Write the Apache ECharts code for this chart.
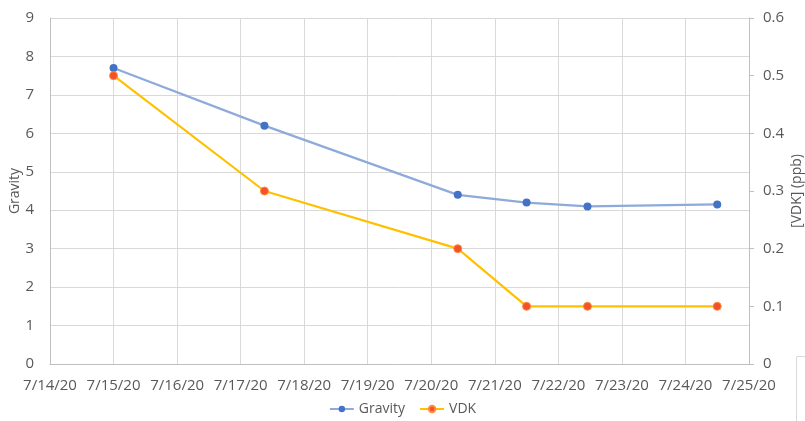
<!DOCTYPE html>
<html>
<head>
<meta charset="utf-8">
<script src="https://cdn.jsdelivr.net/npm/echarts@6/dist/echarts.min.js"></script>
<style>
  html, body { margin: 0; padding: 0; background: #fff; }
  #main { width: 805px; height: 421px; }
</style>
</head>
<body>
<div id="main"></div>
<script>
// sample times
var sampleTimes = ['2020-07-15T00:00', '2020-07-17T09:00', '2020-07-20T10:00', '2020-07-21T12:00', '2020-07-22T11:00', '2020-07-24T12:00'];
var gravity = [7.7, 6.2, 4.4, 4.2, 4.1, 4.15];
var vdk = [0.5, 0.3, 0.2, 0.1, 0.1, 0.1];
var dayLabels = ['7/14/20', '7/15/20', '7/16/20', '7/17/20', '7/18/20', '7/19/20', '7/20/20', '7/21/20', '7/22/20', '7/23/20', '7/24/20', '7/25/20'];

var startMs = Date.parse('2020-07-14T00:00Z');
function dayOffset(s) { return (Date.parse(s + 'Z') - startMs) / 86400000; }
var xs = sampleTimes.map(dayOffset);

var font = 'Open Sans, Noto Sans, sans-serif';
var textCol = '#595959';
var gridCol = '#d9d9d9';
var axisCol = '#bfbfbf';

var chart = echarts.init(document.getElementById('main'));
chart.setOption({
    animation: false,
    textStyle: { fontFamily: font },
    grid: { left: 50, right: 56, top: 18, bottom: 57, containLabel: false, outerBoundsMode: 'none' },
    legend: {
        bottom: 0,
        left: 'center',
        itemWidth: 24,
        itemHeight: 8,
        itemGap: 14,
        textStyle: { color: textCol, fontSize: 14, fontFamily: font },
        data: ['Gravity', 'VDK']
    },
    xAxis: {
        type: 'value',
        min: 0,
        max: dayLabels.length - 1,
        interval: 1,
        axisLine: { show: true, lineStyle: { color: axisCol } },
        axisTick: { show: false },
        splitLine: { show: true, lineStyle: { color: gridCol } },
        axisLabel: {
            color: textCol, fontSize: 15, margin: 14,
            formatter: function (v) { return dayLabels[Math.round(v)] || ''; }
        }
    },
    yAxis: [{
        type: 'value',
        min: 0, max: 9, interval: 1,
        name: 'Gravity',
        nameLocation: 'middle',
        nameRotate: 90,
        nameGap: 28,
        nameMoveOverlap: false,
        nameTextStyle: { color: textCol, fontSize: 14 },
        axisLine: { show: true, lineStyle: { color: axisCol } },
        axisTick: { show: false },
        splitLine: { show: true, lineStyle: { color: gridCol } },
        axisLabel: { color: textCol, fontSize: 15, margin: 16 }
    }, {
        type: 'value',
        position: 'right',
        min: 0, max: 0.6, interval: 0.1,
        name: '[VDK] (ppb)',
        nameLocation: 'middle',
        nameRotate: 90,
        nameGap: 41,
        nameMoveOverlap: false,
        nameTextStyle: { color: textCol, fontSize: 14 },
        axisLine: { show: true, lineStyle: { color: axisCol } },
        axisTick: { show: true, length: 5, lineStyle: { color: axisCol } },
        splitLine: { show: false },
        axisLabel: { color: textCol, fontSize: 15, margin: 14 }
    }],
    series: [{
        name: 'Gravity',
        type: 'line',
        yAxisIndex: 0,
        symbol: 'circle',
        symbolSize: 8,
        lineStyle: { color: '#8eaadb', width: 2.2 },
        itemStyle: { color: '#4472c4' },
        data: xs.map(function (x, i) { return [x, gravity[i]]; })
    }, {
        name: 'VDK',
        type: 'line',
        yAxisIndex: 1,
        symbol: 'circle',
        symbolSize: 8,
        lineStyle: { color: '#ffc000', width: 2.2 },
        itemStyle: { color: '#f4502a', borderColor: '#ff8a3a', borderWidth: 1 },
        data: xs.map(function (x, i) { return [x, vdk[i]]; })
    }],
    graphic: [{
        type: 'rect',
        shape: { x: 796.5, y: 356.5, width: 30, height: 80 },
        style: { fill: '#fff', stroke: '#d9d9d9', lineWidth: 1 }
    }]
});
</script>
</body>
</html>
